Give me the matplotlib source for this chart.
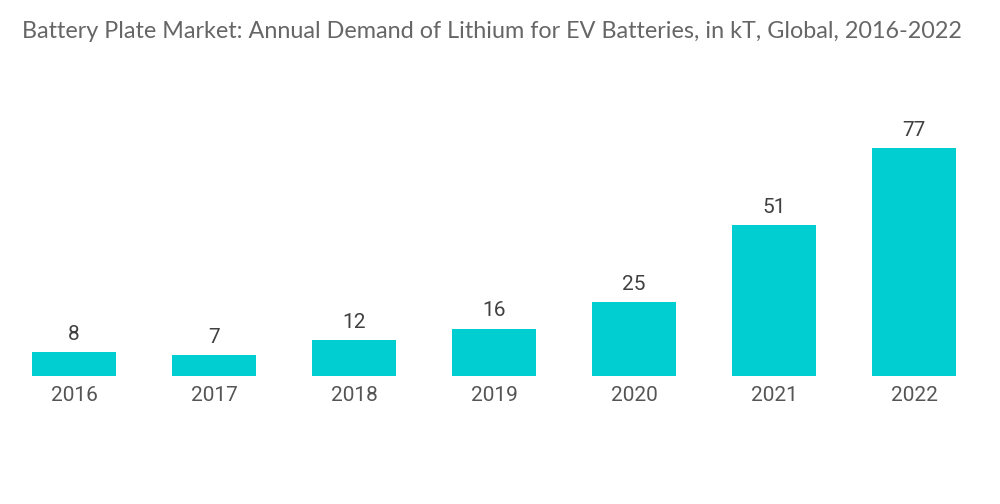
import matplotlib
matplotlib.use("Agg")
import matplotlib.pyplot as plt

# Donnees
years = ["2016", "2017", "2018", "2019", "2020", "2021", "2022"]
demand_kt = [8, 7, 12, 16, 25, 51, 77]

title = "Battery Plate Market: Annual Demand of Lithium for EV Batteries, in kT, Global, 2016-2022"

fig = plt.figure(figsize=(10, 5.04), dpi=100)
ax = fig.add_axes([0.004, 128 / 504, 0.98, 276 / 504])

x = list(range(len(years)))
bars = ax.bar(x, demand_kt, width=0.6, color="#00CED1")
ax.set_xlim(-0.5, len(years) - 0.5)
ax.set_ylim(0, 276 / 2.96)

for xi, v in zip(x, demand_kt):
    ax.annotate(str(v), (xi, v), xytext=(0, 6), textcoords="offset points",
                ha="center", va="bottom", fontsize=15, color="#404040",
                family="Roboto")

ax.set_xticks(x)
ax.set_xticklabels(years, family="Roboto", fontsize=15, color="#555555")
ax.tick_params(axis="x", length=0, pad=7)
ax.set_yticks([])
for s in ax.spines.values():
    s.set_visible(False)

fig.text(0.022, 0.937, title, fontsize=16.8, color="#666666", family="Lato",
         ha="left", va="center")

fig.savefig("out.png", dpi=100)
